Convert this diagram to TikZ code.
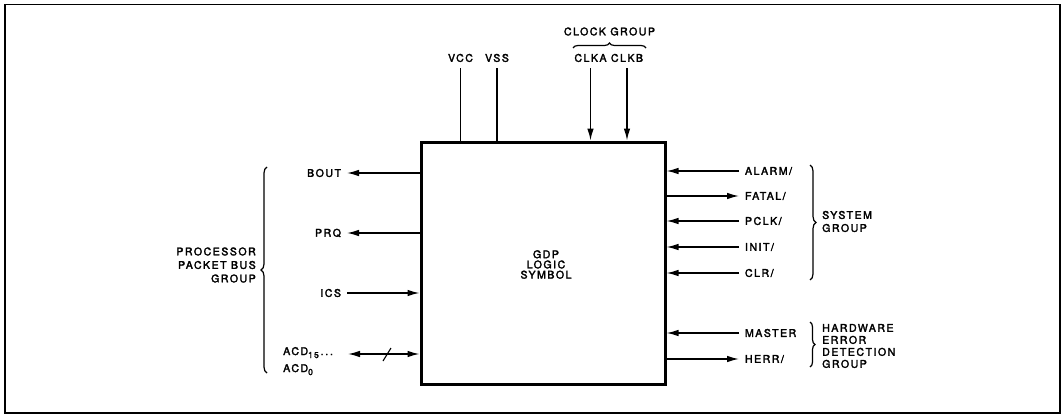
\documentclass[tikz,border=0pt]{standalone}
\usepackage{fontspec}
\usetikzlibrary{arrows.meta,decorations.pathreplacing}
\newfontfamily\dgfamily{TeX Gyre Heros}[LetterSpace=14,FakeBold=2.5]
\newcommand\dgtext{\dgfamily\fontsize{10.6}{12}\selectfont}
\newcommand\dgsub[1]{\raisebox{-3pt}{\fontsize{8.5}{10}\selectfont #1}}
\begin{document}
\begin{tikzpicture}[x=1pt,y=-1pt,
  lbl/.style={inner sep=0pt,outer xsep=6pt,outer ysep=6pt,font=\dgtext},
  grp/.style={inner sep=0pt,font=\dgtext},
  sig/.style={line width=1.3pt,-{Latex[length=12pt,width=6.5pt]}},
  bisig/.style={line width=1.3pt,{Latex[length=12pt,width=6.5pt]}-{Latex[length=12pt,width=6.5pt]}},
  pinline/.style={line width=1.3pt},
  grpbrace/.style={decorate,decoration={brace,amplitude=#1},line width=1.2pt},
  grpbrace/.default=6pt
]
\useasboundingbox (0,0) rectangle (1061,415);
% frame
\draw[line width=1.8pt] (5,4.5) rectangle (1060,413);
% main box
\node[draw,line width=3pt,minimum width=244pt,minimum height=242pt,inner sep=0pt] (box) at (543,263) {};
\node[grp,align=center,font=\dgfamily\fontsize{10.6}{10.2}\selectfont] (gdp) at (546,264.5) {GDP\\LOGIC\\SYMBOL};
% top pins
\node[lbl,anchor=south] (vcc) at (460.5,68) {VCC};
\node[lbl,anchor=south] (vss) at (497,68) {VSS};
\node[lbl,anchor=south] (clka) at (590.5,68) {CLKA};
\node[lbl,anchor=south] (clkb) at (627,68) {CLKB};
\draw[pinline] (vcc.south) -- (vcc.south |- box.north);
\draw[pinline] (vss.south) -- (vss.south |- box.north);
\draw[sig] (clka.south) -- (clka.south |- box.north);
\draw[sig] (clkb.south) -- (clkb.south |- box.north);
\coordinate (cbl) at (573,48);
\coordinate (cbr) at (646,48);
\draw[grpbrace=5pt] (cbl) -- (cbr);
\node[grp] (clockgrp) at (609.5,31.5) {CLOCK GROUP};
% left pins
\node[lbl,anchor=east] (bout) at (347,173) {BOUT};
\node[lbl,anchor=east] (prq) at (347,233) {PRQ};
\node[lbl,anchor=east] (ics) at (347,293) {ICS};
\draw[sig] (box.west |- bout) -- (bout.east);
\draw[sig] (box.west |- prq) -- (prq.east);
\draw[sig] (ics.east) -- (box.west |- ics);
\node[grp,anchor=base west] (acdhi) at (283,355) {ACD\dgsub{15}\,.\,.\,.};
\node[grp,anchor=base west] (acdlo) at (283,372) {ACD\dgsub{0}};
\coordinate (acdend) at (348,354);
\draw[bisig] (acdend) -- (box.west |- acdend);
\draw[line width=1.1pt] (383,361) -- (391,348);
\coordinate (lbb) at (267,373);
\coordinate (lbt) at (267,167);
\draw[grpbrace=6pt] (lbb) -- (lbt);
\node[grp,align=right,anchor=east,font=\dgfamily\fontsize{10.6}{13.5}\selectfont] (ppb) at (256,265) {PROCESSOR\\PACKET BUS\\GROUP};
% right pins
\node[lbl,anchor=west] (alarm) at (739,171) {ALARM/};
\node[lbl,anchor=west] (fatal) at (739,196) {FATAL/};
\node[lbl,anchor=west] (pclk) at (739,221) {PCLK/};
\node[lbl,anchor=west] (init) at (739,247) {INIT/};
\node[lbl,anchor=west] (clr) at (739,273) {CLR/};
\node[lbl,anchor=west] (master) at (739,333) {MASTER};
\node[lbl,anchor=west] (herr) at (739,359) {HERR/};
\draw[sig] (alarm.west) -- (box.east |- alarm);
\draw[sig] (box.east |- fatal) -- (fatal.west);
\draw[sig] (pclk.west) -- (box.east |- pclk);
\draw[sig] (init.west) -- (box.east |- init);
\draw[sig] (clr.west) -- (box.east |- clr);
\draw[sig] (master.west) -- (box.east |- master);
\draw[sig] (box.east |- herr) -- (herr.west);
\coordinate (sbt) at (810,165);
\coordinate (sbb) at (810,280);
\draw[grpbrace=6pt] (sbt) -- (sbb);
\node[grp,align=left,anchor=west,font=\dgfamily\fontsize{10.6}{13}\selectfont] (sysgrp) at (822,221.5) {SYSTEM\\GROUP};
\coordinate (hbt) at (810,322);
\coordinate (hbb) at (810,367);
\draw[grpbrace=5pt] (hbt) -- (hbb);
\node[grp,align=left,anchor=west,font=\dgfamily\fontsize{10.6}{12}\selectfont] (hwgrp) at (822,346) {HARDWARE\\ERROR\\DETECTION\\GROUP};
\end{tikzpicture}
\end{document}
